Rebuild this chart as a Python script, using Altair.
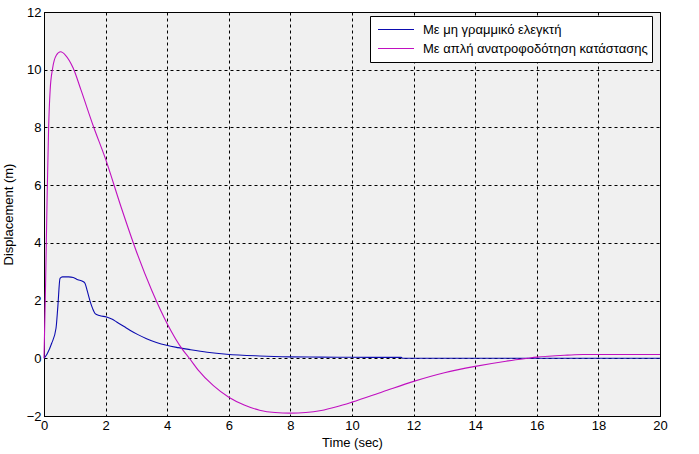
import altair as alt
import pandas as pd

# Series 1: nonlinear controller (blue)
t_blue = [0, 0.1, 0.25, 0.39, 0.45, 0.52, 0.6, 0.8, 0.95, 1.1, 1.25, 1.33, 1.4, 1.49,
          1.58, 1.66, 1.8, 2.03, 2.2, 2.36, 2.6, 2.79, 3.05, 3.33, 3.65, 3.98, 4.35,
          4.74, 5.3, 5.93, 7, 8, 9, 10, 11, 11.6, 11.65, 14, 17, 20]
v_blue = [0, 0.15, 0.52, 1.04, 1.8, 2.77, 2.82, 2.82, 2.8, 2.72, 2.67, 2.6, 2.35, 2.0,
          1.72, 1.55, 1.48, 1.43, 1.36, 1.26, 1.1, 0.97, 0.82, 0.68, 0.55, 0.45, 0.37,
          0.3, 0.21, 0.14, 0.08, 0.05, 0.04, 0.035, 0.03, 0.03, 0.0, 0.0, 0.0, 0.0]

# Series 2: simple state feedback (magenta)
t_mag = [0, 0.05, 0.1, 0.15, 0.2, 0.28, 0.4, 0.54, 0.7, 0.95, 1.2, 1.6, 2.0, 2.5, 3.0,
         3.5, 4.0, 4.5, 4.72, 5, 5.5, 6, 6.5, 7, 7.5, 8, 8.5, 9, 9.5, 10, 11, 12, 13, 14,
         15, 15.7, 16, 17, 17.5, 18, 19, 20]
v_mag = [0, 2.5, 5.5, 8, 9.3, 10.05, 10.5, 10.62, 10.5, 10.05, 9.3, 8.05, 6.9, 5.25,
         3.7, 2.35, 1.2, 0.3, 0.0, -0.4, -0.95, -1.35, -1.62, -1.8, -1.88, -1.9, -1.88,
         -1.81, -1.68, -1.52, -1.16, -0.8, -0.5, -0.28, -0.1, 0.0, 0.04, 0.11, 0.13,
         0.13, 0.13, 0.13]

series_names = ["Με μη γραμμικό ελεγκτή", "Με απλή ανατροφοδότηση κατάστασης"]
series_colors = ["#0c0cb0", "#c010c0"]

x_ticks = list(range(0, 21, 2))
y_ticks = list(range(-2, 13, 2))

df = pd.concat([
    pd.DataFrame({"t": t_blue, "v": v_blue, "s": series_names[0]}),
    pd.DataFrame({"t": t_mag, "v": v_mag, "s": series_names[1]}),
])

FONT = "Liberation Sans"

chart = alt.Chart(df).mark_line(strokeWidth=1.1, interpolate="monotone").encode(
    x=alt.X("t:Q", scale=alt.Scale(domain=[0, 20], nice=False),
            axis=alt.Axis(values=x_ticks, title="Time (sec)", format="d")),
    y=alt.Y("v:Q", scale=alt.Scale(domain=[-2, 12], nice=False),
            axis=alt.Axis(values=y_ticks, title="Displacement (m)", format="d")),
    color=alt.Color("s:N", scale=alt.Scale(domain=series_names, range=series_colors),
                    sort=series_names,
                    legend=alt.Legend(title=None, orient="none", legendX=326, legendY=4,
                                      symbolType="stroke", symbolSize=1296,
                                      symbolStrokeWidth=1.2, symbolOffset=3,
                                      fillColor="white", strokeColor="black",
                                      padding=4, clipHeight=19, rowPadding=0,
                                      labelFontSize=13, labelFont=FONT,
                                      labelColor="black", labelOffset=8,
                                      labelLimit=400)),
    order="t:Q",
).properties(
    width=616, height=404,
    autosize=alt.AutoSizeParams(type="none"),
    padding={"left": 44, "top": 12, "right": 39, "bottom": 38},
    background="white",
).configure_view(
    fill="#f0f0f0", stroke="black", strokeWidth=1,
).configure_axis(
    domainColor="black", domainWidth=1, ticks=False, labelPadding=3,
    labelFlush=False, labelOverlap=False,
    grid=True, gridColor="black", gridDash=[3, 3], gridWidth=1, gridOpacity=1,
    labelFont=FONT, labelFontSize=13, labelColor="black",
    titleFont=FONT, titleFontSize=13, titleFontWeight="normal", titleColor="black",
).configure_axisX(
    titlePadding=4,
).configure_axisY(
    titlePadding=11,
)

chart.save("out.html", embed_options={"renderer": "svg", "actions": False})
